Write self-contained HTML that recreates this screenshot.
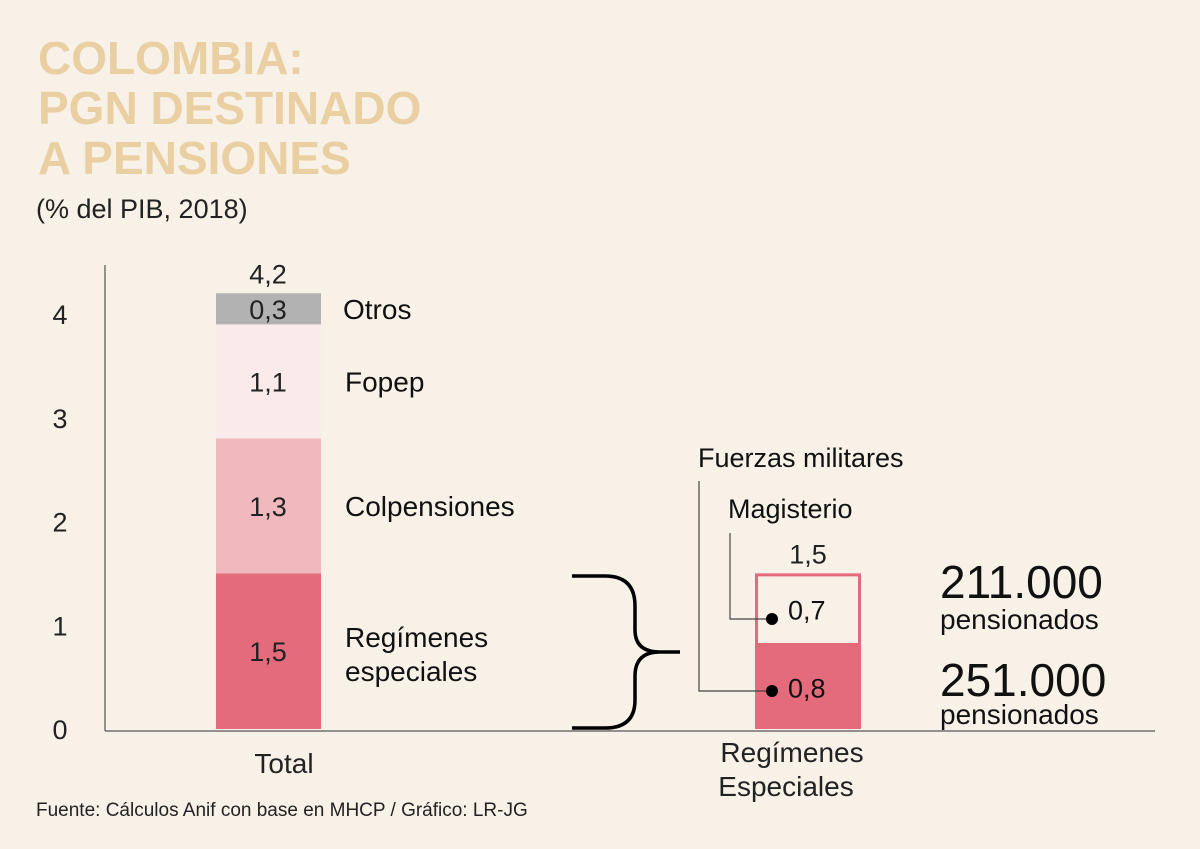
<!DOCTYPE html>
<html><head><meta charset="utf-8"><style>
body{margin:0;background:#f8f1e7;}
svg{display:block;font-family:"Liberation Sans",sans-serif;}
</style></head><body>
<svg width="1200" height="849" viewBox="0 0 1200 849">
<rect width="1200" height="849" fill="#f8f1e7"/>
<g font-weight="bold" font-size="46" fill="#e9cfa2">
<text x="38" y="74">COLOMBIA:</text>
<text x="38" y="124">PGN DESTINADO</text>
<text x="38" y="174">A PENSIONES</text>
</g>
<text x="36" y="218" font-size="27" fill="#222">(% del PIB, 2018)</text>
<g id="axes"></g>
<g id="bars"></g>
<path d="M572 576 H605 Q635 576 635 606 V630 Q635 652 660 652 H680 M660 652 Q635 652 635 676 V700 Q635 728 605 728 H572" fill="none" stroke="#000" stroke-width="3.5"/>
<text x="698" y="467" font-size="27" fill="#111">Fuerzas militares</text>
<text x="728" y="518" font-size="27" fill="#111">Magisterio</text>
<polyline points="699,481 699,691 771,691" fill="none" stroke="#444" stroke-width="1.2"/>
<polyline points="730,533 730,619 771,619" fill="none" stroke="#444" stroke-width="1.2"/>
<circle cx="772" cy="691" r="6" fill="#000"/>
<circle cx="772" cy="619" r="6" fill="#000"/>
<g fill="#111">
<text x="940" y="598" font-size="46">211.000</text>
<text x="940" y="629" font-size="28">pensionados</text>
<text x="940" y="696" font-size="46">251.000</text>
<text x="940" y="724" font-size="28">pensionados</text>
</g>
<text x="284" y="773" font-size="28" fill="#222" text-anchor="middle">Total</text>
<text x="792" y="762" font-size="28" fill="#222" text-anchor="middle">Regímenes</text>
<text x="786" y="796" font-size="28" fill="#222" text-anchor="middle">Especiales</text>
<text x="36" y="816" font-size="19" fill="#222">Fuente: Cálculos Anif con base en MHCP / Gráfico: LR-JG</text>
</svg>
<script>
const ticks=[0,1,2,3,4];
const totalSegs=["Regímenes especiales","Colpensiones","Fopep","Otros"];
const totalVals=[1.5,1.3,1.1,0.3];
const segLabels=["1,5","1,3","1,1","0,3"];
const totalLabel="4,2";
const regSegs=["Fuerzas militares","Magisterio"];
const regVals=[0.8,0.7];
const regLabels=["0,8","0,7"];
const regTotalLabel="1,5";
const NS="http://www.w3.org/2000/svg";
function y(v){return 729-v*103.75;}
function mk(t,a,p){const e=document.createElementNS(NS,t);for(const k in a)e.setAttribute(k,a[k]);p.appendChild(e);return e;}
const ax=document.getElementById('axes'),bars=document.getElementById('bars');
let l=mk('line',{x1:105,y1:265,x2:105,y2:731,stroke:'#555','stroke-width':1.2},ax);


l=mk('line',{x1:105,y1:731,x2:1155,y2:731,stroke:'#555','stroke-width':1.2},ax);


ticks.forEach(t=>{const e=mk('text',{x:60,y:y(t)+10,'font-size':27,fill:'#222','text-anchor':'middle'},ax);e.textContent=t;

});
const colors=['#e36b7b','#f0b9bd','#fbeaea','#b2b2b2'];
const names=[["Regímenes","especiales"],["Colpensiones"],["Fopep"],["Otros"]];
let cum=0;
totalVals.forEach((v,i)=>{const r=mk('rect',{x:216,y:y(cum+v),width:105,height:y(cum)-y(cum+v),fill:colors[i]},bars);


const mid=(y(cum)+y(cum+v))/2;
const t=mk('text',{x:268,y:mid+10,'font-size':27,fill:'#222','text-anchor':'middle'},bars);t.textContent=segLabels[i];


const n=mk('text',{x:i==3?343:345,y:mid+(names[i].length>1?-4:10),'font-size':28,fill:'#111'},bars);


names[i].forEach((s,j)=>{const ts=mk('tspan',{x:i==3?343:345,dy:j?34:0},n);ts.textContent=s;});
cum+=v;});
const tt=mk('text',{x:268,y:y(cum)-10,'font-size':27,fill:'#222','text-anchor':'middle'},bars);tt.textContent=totalLabel;


let c2=0;
regVals.forEach((v,i)=>{let r;
if(i==0)r=mk('rect',{x:755,y:y(v),width:106,height:y(0)-y(v),fill:'#e36b7b'},bars);
else r=mk('rect',{x:756.5,y:y(c2+v)+1.5,width:103,height:y(c2)-y(c2+v)-3,fill:'none',stroke:'#e36b7b','stroke-width':3},bars);


const mid=(y(c2)+y(c2+v))/2;
const t=mk('text',{x:788,y:mid+10,'font-size':27,fill:'#111'},bars);t.textContent=regLabels[i];


c2+=v;});
const rt=mk('text',{x:808,y:y(c2)-10,'font-size':27,fill:'#222','text-anchor':'middle'},bars);rt.textContent=regTotalLabel;


</script>
</body></html>
